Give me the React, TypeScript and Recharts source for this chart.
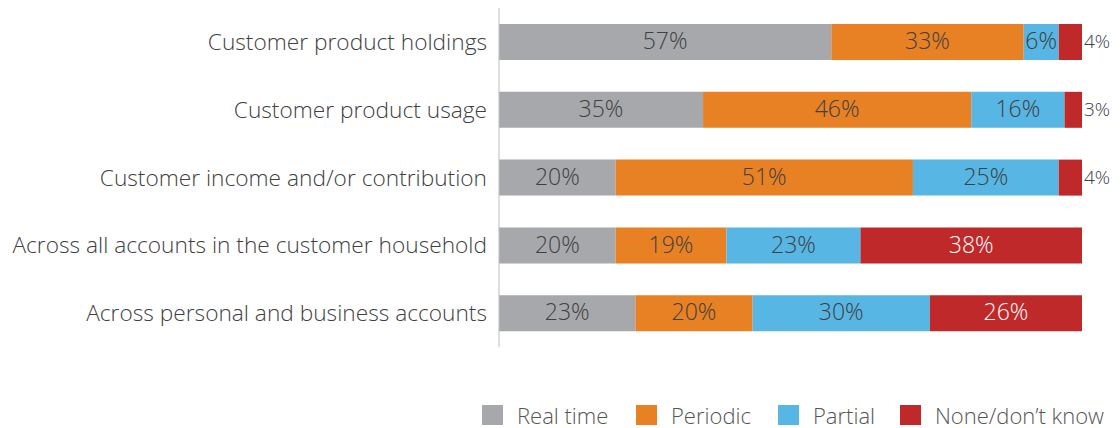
import React from 'react';
import { BarChart, Bar, XAxis, YAxis, LabelList } from 'recharts';

const categories = [
  'Customer product holdings',
  'Customer product usage',
  'Customer income and/or contribution',
  'Across all accounts in the customer household',
  'Across personal and business accounts',
];
const realTime = [57, 35, 20, 20, 23.4];
const periodic = [33, 46, 51, 19, 20.1];
const partial = [6, 16, 25, 23, 30.4];
const noneDontKnow = [4, 3, 4, 38, 26.1];

const seriesNames = ['Real time', 'Periodic', 'Partial', 'None/don\u2019t know'];
const seriesKeys = ['realTime', 'periodic', 'partial', 'none'];
const colors = ['#A7A8AB', '#E88024', '#57B6E3', '#C0292A'];

const FONT = '"Open Sans", Lato, sans-serif';
const TEXT = '#404040';
const legendX = [474, 628, 770, 892];

const data = categories.map((name, i) => ({
  name,
  realTime: realTime[i],
  periodic: periodic[i],
  partial: partial[i],
  none: noneDontKnow[i],
}));

// small segments at the end get their label outside the bar
function makeLabel(color: string, outsideSmall: boolean) {
  return (props: any) => {
    const { x, y, width, height, value } = props;
    const txt = `${Math.round(value)}%`;
    if (outsideSmall && value < 5) {
      return (
        <text x={x + width + 2} y={y + height / 2 + 1} dominantBaseline="middle" textAnchor="start"
          fontSize={19} fontWeight={300} fontFamily={FONT} fill={TEXT}>{txt}</text>
      );
    }
    return (
      <text x={x + width / 2} y={y + height / 2 + 1} dominantBaseline="middle" textAnchor="middle"
        fontSize={23} fontWeight={300} fontFamily={FONT} fill={color}>{txt}</text>
    );
  };
}

function ChartLegend() {
  return (
    <>
      {seriesNames.map((n, i) => (
        <div key={n} style={{ position: 'absolute', top: 394, left: legendX[i], display: 'flex', alignItems: 'center',
          fontFamily: FONT, fontSize: 22, fontWeight: 300, color: '#555', lineHeight: '26px', whiteSpace: 'nowrap' }}>
          <span style={{ width: 21, height: 20, background: colors[i], display: 'inline-block', marginRight: 14 }} />
          <span>{n}</span>
        </div>
      ))}
    </>
  );
}

export default function App() {
  return (
    <div style={{ position: 'relative', width: 1104, height: 420 }}>
      <BarChart
        width={1104}
        height={420}
        data={data}
        layout="vertical"
        margin={{ top: 0, right: 30, left: 0, bottom: 81 }}
        barSize={36}
      >
        <XAxis type="number" domain={[0, 100]} hide />
        <YAxis
          type="category"
          dataKey="name"
          width={491}
          tickLine={false}
          axisLine={{ stroke: '#BDBDBD' }}
          tick={{ fontSize: 22.7, fontWeight: 300, fontFamily: FONT, fill: TEXT }}
          tickMargin={6}
          interval={0}
        />
        {seriesKeys.map((k, i) => (
          <Bar key={k} dataKey={k} stackId="a" fill={colors[i]} isAnimationActive={false}>
            <LabelList dataKey={k} content={makeLabel(i === 3 ? '#FFFFFF' : TEXT, i === 3)} />
          </Bar>
        ))}
      </BarChart>
      <ChartLegend />
    </div>
  );
}
